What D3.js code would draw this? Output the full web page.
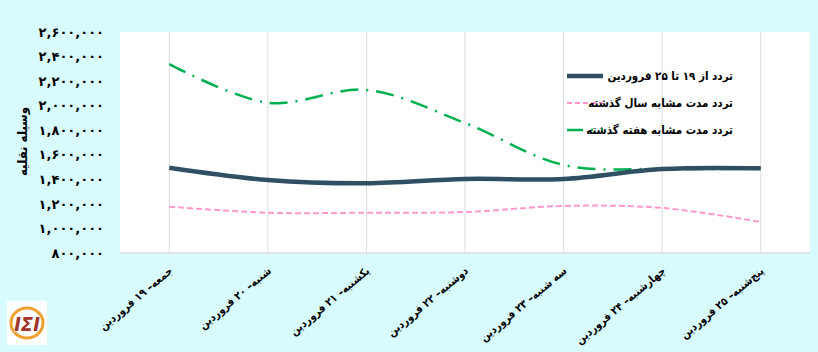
<!DOCTYPE html>
<html>
<head>
<meta charset="utf-8">
<script src="https://cdn.jsdelivr.net/npm/d3@7"></script>
<style>
  body { margin: 0; background: #d8fcfd; }
  svg { display: block; font-family: "DejaVu Sans Condensed", sans-serif; font-weight: bold; }
</style>
</head>
<body>
<div id="canvas"></div>
<script>
// ---- DATA ----
var days = ['جمعه– ۱۹ فروردین', 'شنبه– ۲۰ فروردین', 'یکشنبه– ۲۱ فروردین', 'دوشنبه– ۲۲ فروردین',
            'سه شنبه– ۲۳ فروردین', 'چهارشنبه– ۲۴ فروردین', 'پنج‌شنبه– ۲۵ فروردین'];
var thisWeek = [1495000, 1395000, 1368000, 1403000, 1403000, 1484000, 1490000];
var lastYear = [1177000, 1128000, 1128000, 1134000, 1183000, 1167000, 1053000];
var lastWeek = [2339000, 2024000, 2128000, 1859000, 1517000, 1484000, 1490000];
var yTicks = [800000, 1000000, 1200000, 1400000, 1600000, 1800000, 2000000, 2200000, 2400000, 2600000];
var legendNames = ['تردد از ۱۹ تا ۲۵ فروردین', 'تردد مدت مشابه سال گذشته', 'تردد مدت مشابه هفته گذشته'];
var yTitle = 'وسیله نقلیه';

// ---- CONVENTIONS ----
var outerWidth = 818, outerHeight = 352;
var margin = {top: 32, right: 8, bottom: 99, left: 120};
var width = outerWidth - margin.left - margin.right,
    height = outerHeight - margin.top - margin.bottom;

var svg = d3.select('#canvas').append('svg')
    .attr('width', outerWidth)
    .attr('height', outerHeight);

svg.append('rect').attr('width', outerWidth).attr('height', outerHeight).attr('fill', '#d8fcfd');

var plot = svg.append('g')
    .attr('transform', 'translate(' + margin.left + ',' + margin.top + ')');

plot.append('rect').attr('width', width).attr('height', height).attr('fill', '#fff');

// ---- SCALES ----
var scaleX = d3.scalePoint().domain(days).range([0, width]).padding(0.5);
var scaleY = d3.scaleLinear().domain([800000, 2600000]).range([height, 0]);

function fa(n) {
    return d3.format(',')(n).replace(/[0-9]/g, function(c){ return '۰۱۲۳۴۵۶۷۸۹'[+c]; });
}

// vertical gridlines
plot.selectAll('.grid').data(days).enter().append('line')
    .attr('x1', function(d){ return scaleX(d); })
    .attr('x2', function(d){ return scaleX(d); })
    .attr('y1', 0).attr('y2', height)
    .attr('stroke', '#dcdcdc').attr('stroke-width', 1);

plot.append('line').attr('x1', 0).attr('x2', width).attr('y1', height).attr('y2', height)
    .attr('stroke', '#dcdcdc').attr('stroke-width', 1.5);

// ---- AXES ----
var axisY = d3.axisLeft(scaleY).tickValues(yTicks).tickFormat(fa).tickSize(0).tickPadding(16);
var gy = plot.append('g').call(axisY);
gy.select('.domain').remove();
gy.selectAll('text').attr('font-size', 13).attr('font-weight', 'bold').attr('fill', '#000')
    .attr('font-family', '"DejaVu Sans", sans-serif');

var gx = plot.append('g').attr('transform', 'translate(0,' + height + ')');
gx.selectAll('text').data(days).enter().append('text')
    .attr('transform', function(d){ return 'translate(' + (scaleX(d) + 4) + ',19) rotate(-40)'; })
    .attr('text-anchor', 'end')
    .attr('font-size', 11)
    .attr('fill', '#000')
    .text(function(d){ return d; });

svg.append('text')
    .attr('transform', 'translate(27,' + (margin.top + height / 2 - 1) + ') rotate(-90)')
    .attr('text-anchor', 'middle')
    .attr('font-size', 13)
    .text(yTitle);

// ---- LINES ----
var lineGenerator = d3.line()
    .x(function(d, i){ return scaleX(days[i]); })
    .y(function(d){ return scaleY(d); })
    .curve(d3.curveCatmullRom.alpha(0.5));

var series = [
    {values: lastWeek, color: '#00b050', w: 2.5, dash: '18,8,2,8'},
    {values: lastYear, color: '#ff99cc', w: 2, dash: '6,3'},
    {values: thisWeek, color: '#2f4f63', w: 4.5, dash: null}
];

plot.selectAll('.series').data(series).enter().append('path')
    .attr('d', function(s){ return lineGenerator(s.values); })
    .attr('fill', 'none')
    .attr('stroke', function(s){ return s.color; })
    .attr('stroke-width', function(s){ return s.w; })
    .attr('stroke-dasharray', function(s){ return s.dash; });

// ---- LEGEND ----
var legendStyle = [series[2], series[1], series[0]];
var legend = svg.append('g').attr('transform', 'translate(567,76)');
legendStyle.forEach(function(s, i){
    var row = legend.append('g').attr('transform', 'translate(0,' + (i * 27) + ')');
    row.append('line').attr('x1', 0).attr('x2', 36).attr('y1', 0).attr('y2', 0)
        .attr('stroke', s.color).attr('stroke-width', s.w)
        .attr('stroke-dasharray', s.dash ? (i === 2 ? '16,8,2,8' : '5,3') : null);
    row.append('text').attr('x', 166).attr('y', 4)
        .attr('text-anchor', 'end').attr('font-size', 11.5)
        .text(legendNames[i]);
});

// ---- LOGO ----
var logo = svg.append('g').attr('transform', 'translate(7,301)');
logo.append('rect').attr('width', 40).attr('height', 44).attr('fill', '#fff');
logo.append('ellipse').attr('cx', 20).attr('cy', 22).attr('rx', 16).attr('ry', 15)
    .attr('fill', 'none').attr('stroke', '#f0a030').attr('stroke-width', 3);
logo.append('text').attr('x', 20).attr('y', 30).attr('text-anchor', 'middle')
    .attr('font-size', 20).attr('font-style', 'italic').attr('fill', '#a0352a')
    .attr('stroke', '#fff').attr('stroke-width', 1).attr('paint-order', 'stroke')
    .text('IΣI');
</script>
</body>
</html>
